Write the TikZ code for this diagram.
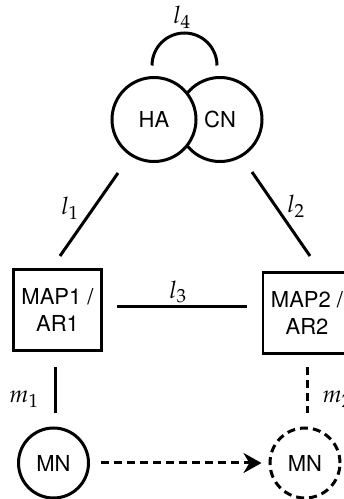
\documentclass[tikz,border=0pt]{standalone}
\usepackage[osf]{mathpazo}
\usepackage{fontspec}
\setsansfont{TeX Gyre Heros}
\usetikzlibrary{arrows.meta}
\DeclareMathSizes{24}{24}{19}{15}
\begin{document}
\begin{tikzpicture}[x=1pt,y=1pt,line width=3pt,
  every node/.style={font=\sffamily\fontsize{22}{27}\selectfont},
  bigcirc/.style={circle,draw,minimum size=84pt,inner sep=0pt},
  mncirc/.style={circle,draw,minimum size=70pt,inner sep=0pt},
  mapbox/.style={draw,minimum width=88pt,minimum height=81pt,inner sep=0pt,align=center,line width=2.8pt},
  lbl/.style={font=\fontsize{24}{28}\selectfont},
  dsh/.style={dash pattern=on 8pt off 5pt}]
\useasboundingbox (0,0) rectangle (344,499);
% top circles
\node[bigcirc] (CN) at (220,379.5) {CN};
\node[bigcirc,fill=white] (HA) at (154,379.5) {HA};
% l4 loop
\coordinate (l4a) at ([shift={(-2pt,10.5pt)}]HA.north);
\draw (l4a) arc[start angle=180,end angle=0,radius=32.5pt] coordinate (l4b);
\node[lbl] (L4) at (182,482) {$l_4$};
% boxes
\node[mapbox] (MAP1) at (57.5,189) {MAP1 /\\AR1};
\node[mapbox] (MAP2) at (307,186) {MAP2 /\\AR2};
% l1, l2
\coordinate (l1a) at (118,326);
\coordinate (l1b) at (60,243);
\coordinate (l2a) at (252,327);
\coordinate (l2b) at (310,243);
\draw (l1a) -- (l1b);
\draw (l2a) -- (l2b);
\node[lbl] (L1) at (70,291) {$l_1$};
\node[lbl] (L2) at (296,293) {$l_2$};
% l3
\coordinate (l3a) at (117,192);
\coordinate (l3b) at (247,192);
\draw (l3a) -- (l3b);
\node[lbl] (L3) at (178,207) {$l_3$};
% MN nodes
\node[mncirc] (MN1) at (53.5,36) {MN};
\node[mncirc,dsh] (MN2) at (305,36) {MN};
% m1, m2
\coordinate (m1a) at (55,132);
\coordinate (m1b) at (55,86);
\coordinate (m2a) at (307,132);
\coordinate (m2b) at (307,86);
\draw (m1a) -- (m1b);
\draw[dsh] (m2a) -- (m2b);
\node[lbl] (M1) at (24,100) {$m_1$};
\node[lbl,anchor=west,inner sep=0pt] (M2) at (321,100) {$m_2$};
% movement arrow
\draw[dsh,-{Stealth[length=18pt,width=20pt]}] ([xshift=11pt]MN1.east) -- ([xshift=-7pt]MN2.west);
\end{tikzpicture}
\end{document}
